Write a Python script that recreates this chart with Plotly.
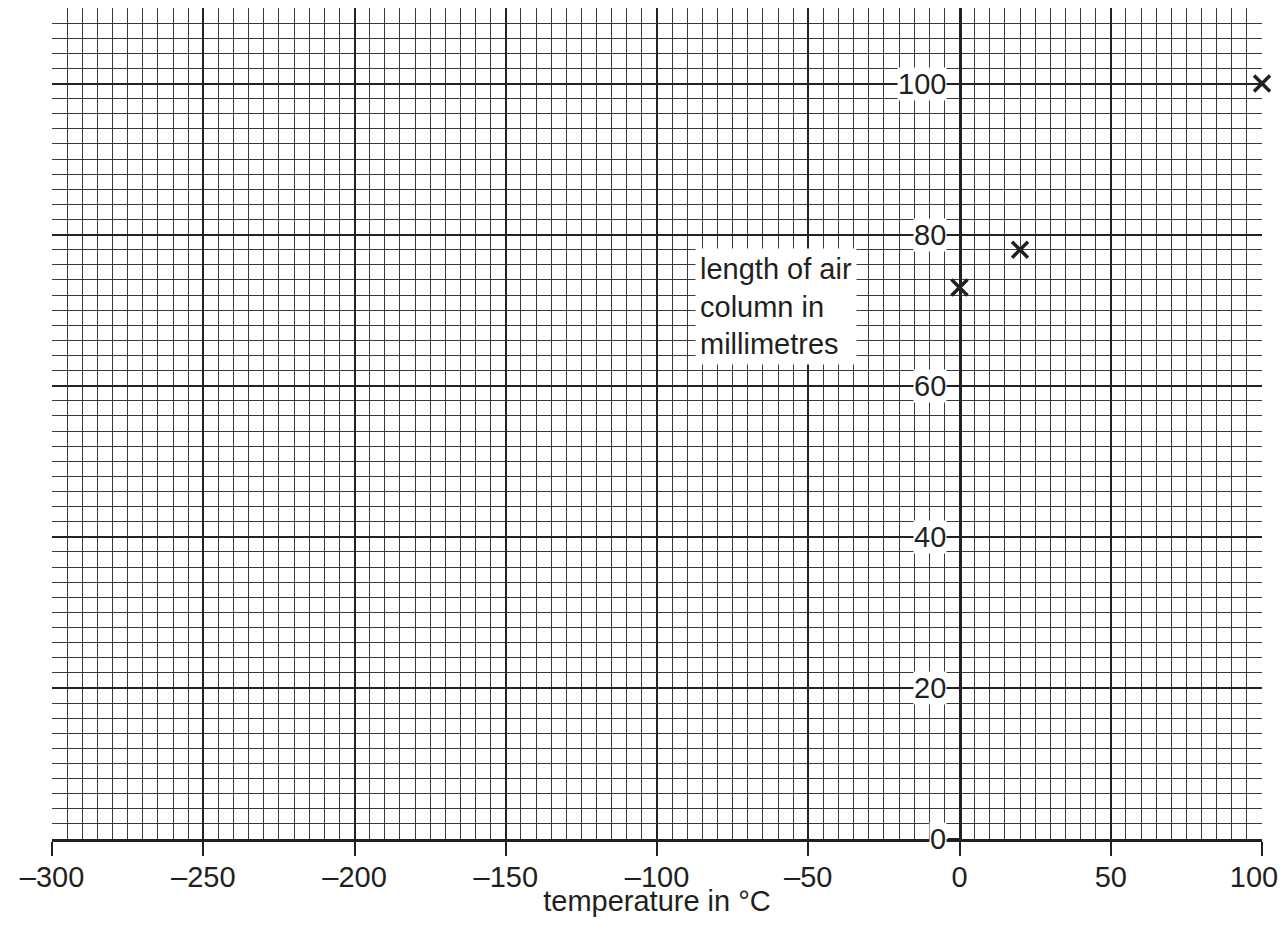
import plotly.graph_objects as go

# Data
temperature_c = [0, 20, 100]
length_mm = [73, 78, 100]

x_tick_vals = [-300, -250, -200, -150, -100, -50, 0, 50, 100]
x_tick_text = ["–300", "–250", "–200", "–150", "–100", "–50", "0", "50", "100\u2007"]
y_tick_vals = [0, 20, 40, 60, 80, 100]
y_tick_text = ["0", "20", "40", "60", "80", "100"]

INK = "#231f20"
FONT = "Liberation Sans, Arial, Helvetica, sans-serif"
FS = 29

fig = go.Figure()
fig.add_trace(go.Scatter(
    x=temperature_c, y=length_mm, mode="markers",
    marker=dict(symbol="x-thin", size=16, line=dict(width=3.5, color=INK), color=INK),
    cliponaxis=False, showlegend=False,
))

annotations = []
for v, t in zip(y_tick_vals, y_tick_text):
    annotations.append(dict(
        x=0, y=v, xref="x", yref="y", text=t, showarrow=False,
        xanchor="right", yanchor="middle", xshift=-13,
        bgcolor="white", borderpad=0,
        font=dict(family=FONT, size=FS, color=INK),
    ))
annotations.append(dict(
    x=-87.5, y=70.5, xref="x", yref="y",
    text="length of air<br>column in<br>millimetres",
    showarrow=False, xanchor="left", yanchor="middle", align="left",
    bgcolor="white", borderpad=4,
    font=dict(family=FONT, size=FS, color=INK),
))

fig.update_layout(
    width=1272, height=909,
    margin=dict(l=44, r=18, t=0, b=78),
    paper_bgcolor="white", plot_bgcolor="white",
    font=dict(family=FONT, size=FS, color=INK),
    annotations=annotations,
    xaxis=dict(
        range=[-300, 100], tickmode="array", tickvals=x_tick_vals, ticktext=x_tick_text,
        showgrid=True, gridcolor="#222", gridwidth=2,
        minor=dict(dtick=5, tick0=0, showgrid=True, gridcolor="#3a3a3a", gridwidth=1.2),
        zeroline=False, showline=True, linecolor=INK, linewidth=2.5,
        ticks="outside", ticklen=14, tickwidth=2, tickcolor=INK,
        tickfont=dict(family=FONT, size=FS, color=INK),
        ticklabeloverflow="allow", ticklabelstandoff=-4,
        automargin=False,
        title=dict(text="temperature in °C", font=dict(family=FONT, size=FS, color=INK), standoff=2),
        fixedrange=True,
    ),
    yaxis=dict(
        range=[0, 110], tickmode="array", tickvals=y_tick_vals,
        showticklabels=False,
        showgrid=True, gridcolor="#222", gridwidth=2,
        minor=dict(dtick=2, tick0=0, showgrid=True, gridcolor="#3a3a3a", gridwidth=1.2),
        zeroline=False, anchor="free", position=0.75,
        showline=True, linecolor=INK, linewidth=2.5,
        ticks="outside", ticklen=11, tickwidth=2, tickcolor=INK,
        automargin=False,
        fixedrange=True,
    ),
)

fig.write_html("out.html")
